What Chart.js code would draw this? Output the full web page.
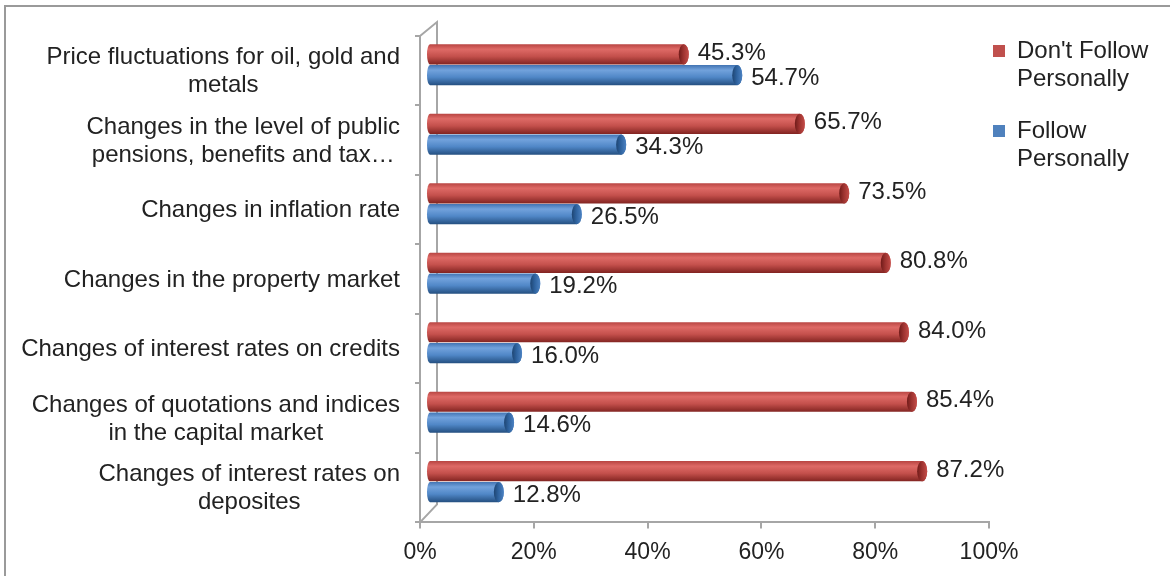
<!DOCTYPE html>
<html>
<head>
<meta charset="utf-8">
<script src="https://cdn.jsdelivr.net/npm/chart.js@4.4.1/dist/chart.umd.min.js"></script>
<style>
  html, body { margin: 0; padding: 0; background: #fff; }
  #wrap { width: 1170px; height: 576px; position: relative; }
</style>
</head>
<body>
<div id="wrap"><canvas id="followChart"></canvas></div>
<script>
const categories = [
    ['Price fluctuations for oil, gold and', 'metals'],
    ['Changes in the level of public', 'pensions, benefits and tax…'],
    'Changes in inflation rate',
    'Changes in the property market',
    'Changes of interest rates on credits',
    ['Changes of quotations and indices', 'in the capital market'],
    ['Changes of interest rates on', 'deposites']
]
const dontFollow = [45.3, 65.7, 73.5, 80.8, 84.0, 85.4, 87.2]
const follow = [54.7, 34.3, 26.5, 19.2, 16.0, 14.6, 12.8]
const seriesNames = [["Don't Follow", 'Personally'], ['Follow', 'Personally']]
const xTicks = [0, 20, 40, 60, 80, 100]

const FONT = '"Liberation Sans", Arial, sans-serif'
const TEXT = '#222222'
const AXIS = '#a6a6a6'
// 3D depth offset of the bars against the front axes
const DEPTH_X = 6
const DEPTH_Y = -6

// cylinder shading: [top, highlight, mid, bottom], cap colours
const shades = [
    {body: ['#b84542', '#de6a66', '#c4504c', '#822421'], cap: ['#c44c48', '#9c322f', '#701b19']},
    {body: ['#4274b3', '#72a2dc', '#5087c7', '#244f80'], cap: ['#4c82c2', '#2e629e', '#1e4572']}
]

function drawCylinder(ctx, x0, x1, yc, h, shade) {
    const top = yc - h / 2, bot = yc + h / 2
    const rx = 5, lx = 3
    const g = ctx.createLinearGradient(0, top, 0, bot)
    g.addColorStop(0, shade.body[0])
    g.addColorStop(0.25, shade.body[1])
    g.addColorStop(0.6, shade.body[2])
    g.addColorStop(1, shade.body[3])
    ctx.beginPath()
    ctx.moveTo(x0 + lx, top)
    ctx.lineTo(x1, top)
    ctx.ellipse(x1, yc, rx, h / 2, 0, -Math.PI / 2, Math.PI / 2)
    ctx.lineTo(x0 + lx, bot)
    ctx.ellipse(x0 + lx, yc, lx, h / 2, 0, Math.PI / 2, Math.PI * 1.5)
    ctx.closePath()
    ctx.fillStyle = g
    ctx.fill()

    const cg = ctx.createLinearGradient(x1 - rx, 0, x1 + rx, 0)
    cg.addColorStop(0, shade.cap[2])
    cg.addColorStop(0.45, shade.cap[1])
    cg.addColorStop(1, shade.cap[0])
    ctx.beginPath()
    ctx.ellipse(x1, yc, rx, h / 2, 0, 0, Math.PI * 2)
    ctx.fillStyle = cg
    ctx.fill()
}

const cylinders = {
    id: 'cylinders',
    beforeDatasetDraw(chart, args) {
        const ctx = chart.ctx
        ctx.save()
        args.meta.data.forEach(bar => {
            const {x, y, base, height} = bar.getProps(['x', 'y', 'base', 'height'], true)
            drawCylinder(ctx, base + DEPTH_X, x + DEPTH_X, y + DEPTH_Y, height, shades[args.index])
        })
        ctx.restore()
        return false
    }
}

const walls = {
    id: 'walls',
    beforeDraw(chart) {
        const ctx = chart.ctx
        ctx.save()
        ctx.fillStyle = '#9a9a9a'
        ctx.fillRect(4, 5, chart.width - 4, 2)
        ctx.fillRect(4, 5, 2, chart.height - 5)
        ctx.restore()
    },
    beforeDatasetsDraw(chart) {
        const {ctx, chartArea: {left, top, bottom}} = chart
        const bx = left + 17
        ctx.save()
        ctx.strokeStyle = AXIS
        ctx.lineWidth = 2
        ctx.beginPath()
        ctx.moveTo(left, top)
        ctx.lineTo(bx, top - 14)
        ctx.lineTo(bx, bottom - 18)
        ctx.lineTo(left, bottom)
        ctx.stroke()
        ctx.restore()
    }
}

const categoryLabels = {
    id: 'categoryLabels',
    afterDraw(chart) {
        const {ctx, chartArea: {left}} = chart
        const yScale = chart.scales.y
        ctx.save()
        ctx.font = '24px ' + FONT
        ctx.fillStyle = TEXT
        ctx.textAlign = 'center'
        ctx.textBaseline = 'middle'
        chart.data.labels.forEach((label, i) => {
            const lines = Array.isArray(label) ? label : [label]
            const w = Math.max(...lines.map(l => ctx.measureText(l).width))
            const cx = left - 20 - w / 2
            const cy = yScale.getPixelForValue(i) + 1
            lines.forEach((line, j) => {
                ctx.fillText(line, cx, cy + (j - (lines.length - 1) / 2) * 28)
            })
        })
        ctx.restore()
    }
}

const valueLabels = {
    id: 'valueLabels',
    afterDatasetsDraw(chart) {
        const ctx = chart.ctx
        const nudge = [-1, 3]
        ctx.save()
        ctx.font = '24px ' + FONT
        ctx.fillStyle = TEXT
        ctx.textAlign = 'left'
        ctx.textBaseline = 'middle'
        chart.data.datasets.forEach((ds, di) => {
            chart.getDatasetMeta(di).data.forEach((bar, i) => {
                const {x, y} = bar.getProps(['x', 'y'], true)
                ctx.fillText(ds.data[i].toFixed(1) + '%', x + DEPTH_X + 14, y + DEPTH_Y + nudge[di])
            })
        })
        ctx.restore()
    }
}

const legendShift = {
    id: 'legendShift',
    afterLayout(chart) {
        const lg = chart.legend
        lg.left -= 20
        lg.right -= 20
        lg.top -= 21
        lg.bottom -= 21
    }
}

Chart.defaults.font.family = FONT
Chart.defaults.font.size = 24
Chart.defaults.color = TEXT

new Chart(document.getElementById('followChart').getContext('2d'), {
    type: 'bar',
    data: {
        labels: categories,
        datasets: [
            {label: seriesNames[0], data: dontFollow, backgroundColor: '#c0504d', borderWidth: 0},
            {label: seriesNames[1], data: follow, backgroundColor: '#4f81bd', borderWidth: 0}
        ]
    },
    options: {
        indexAxis: 'y',
        responsive: true,
        maintainAspectRatio: false,
        animation: false,
        layout: {padding: {left: 415, top: 36, right: 0, bottom: 0}},
        datasets: {bar: {categoryPercentage: 0.6, barPercentage: 0.97, clip: false}},
        scales: {
            x: {
                min: 0,
                max: 100,
                afterBuildTicks: scale => { scale.ticks = xTicks.map(v => ({value: v})) },
                ticks: {callback: v => v + '%', padding: 10, maxRotation: 0, autoSkip: false, font: {size: 23}},
                grid: {drawOnChartArea: false, tickLength: 6, color: AXIS, lineWidth: 2},
                border: {color: AXIS, width: 2}
            },
            y: {
                ticks: {display: false},
                grid: {drawOnChartArea: false, tickLength: 5, color: AXIS, lineWidth: 2, offset: true},
                border: {color: AXIS, width: 2}
            }
        },
        plugins: {
            legend: {
                position: 'right',
                align: 'start',
                maxWidth: 181,
                labels: {boxWidth: 12, boxHeight: 12, padding: 24, font: {size: 24, lineHeight: 28 / 24}, color: TEXT}
            },
            tooltip: {enabled: false}
        }
    },
    plugins: [walls, cylinders, valueLabels, categoryLabels, legendShift]
})
</script>
</body>
</html>
